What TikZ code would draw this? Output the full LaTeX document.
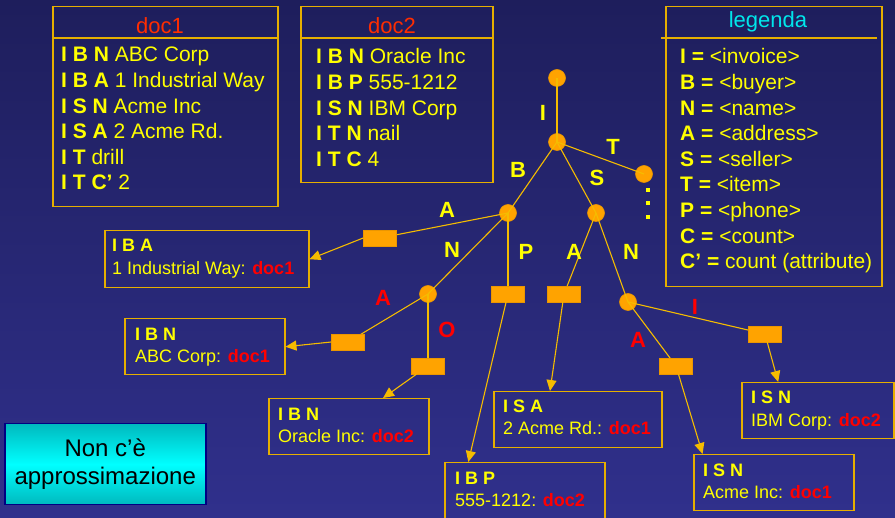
\documentclass[tikz,border=0pt]{standalone}
\usepackage{fontspec}
\setmainfont{Liberation Sans}
\usetikzlibrary{arrows.meta,calc}
\definecolor{bgtop}{RGB}{30,30,92}
\definecolor{bgbot}{RGB}{48,48,140}
\definecolor{ylw}{RGB}{255,255,0}
\definecolor{gold}{RGB}{230,175,0}
\definecolor{edgec}{RGB}{245,188,0}
\definecolor{orng}{RGB}{255,163,0}
\definecolor{orngb}{RGB}{235,150,0}
\definecolor{rd}{RGB}{255,0,0}
\definecolor{ttlred}{RGB}{255,45,0}
\definecolor{cyn}{RGB}{0,230,235}
\definecolor{tealc}{RGB}{0,185,190}
\definecolor{cyanmid}{RGB}{0,255,255}
\definecolor{navyc}{RGB}{0,0,130}
\pgfdeclarelayer{bg}\pgfdeclarelayer{circ}\pgfdeclarelayer{edges}
\pgfsetlayers{bg,circ,edges,main}
\begin{document}
\begin{tikzpicture}[x=1pt,y=-1pt,
  box/.style={draw=gold, line width=1.5pt, inner sep=0pt, anchor=north west},
  txt/.style={anchor=base west, inner sep=0pt, text=ylw},
  big/.style={txt, font=\fontsize{21}{25}\selectfont},
  small/.style={txt, font=\fontsize{18}{22}\selectfont},
  ttl/.style={anchor=base, inner sep=0pt, font=\fontsize{22}{26}\selectfont},
  circ/.style={circle, fill=orng, draw=orngb, line width=0.6pt, minimum size=17pt, inner sep=0pt},
  lab/.style={rectangle, fill=orng, draw=orngb, line width=0.6pt, minimum width=33pt, minimum height=16pt, inner sep=0pt},
  edge/.style={draw=edgec, line width=1.1pt},
  arr/.style={edge, -{Triangle[length=11pt,width=10pt]}},
  lbl/.style={font=\bfseries\fontsize{22}{22}\selectfont, text=ylw, inner sep=0pt},
  rlbl/.style={lbl, text=rd},
  dotm/.style={rectangle, fill=ylw, minimum size=3.6pt, inner sep=0pt}]
\useasboundingbox (0,0) rectangle (895,518);
\begin{pgfonlayer}{bg}
\fill[top color=bgtop, bottom color=bgbot] (0,0) rectangle (895,518);
\end{pgfonlayer}

% doc boxes
\node[box, minimum width=225pt, minimum height=200pt] (doc1) at (52,6) {};
\draw[gold, line width=1.5pt] (52,38) -- (277,38);
\node[ttl, text=ttlred] (doc1t) at (160,34) {doc1};
\foreach \t [count=\i from 0] in {{\textbf{I B N} ABC Corp},{\textbf{I B A} 1 Industrial Way},{\textbf{I S N} Acme Inc},{\textbf{I S A} 2 Acme Rd.},{\textbf{I T} drill},{\textbf{I T C’} 2}}
  \node[big] (d1l\i) at (61,62+25.6*\i) {\t};

\node[box, minimum width=192pt, minimum height=176pt] (doc2) at (300,6) {};
\draw[gold, line width=1.5pt] (300,38) -- (492,38);
\node[ttl, text=ttlred] (doc2t) at (392,34) {doc2};
\foreach \t [count=\i from 0] in {{\textbf{I B N} Oracle Inc},{\textbf{I B P} 555-1212},{\textbf{I S N} IBM Corp},{\textbf{I T N} nail},{\textbf{I T C} 4}}
  \node[big] (d2l\i) at (316,64+25.6*\i) {\t};

\node[box, minimum width=216pt, minimum height=280pt] (leg) at (665,6) {};
\draw[gold, line width=1.5pt] (661,38) -- (877,38);
\node[ttl, text=cyn] (legt) at (768,28) {legenda};
\foreach \t [count=\i from 0] in {{\textbf{I =} <invoice>},{\textbf{B =} <buyer>},{\textbf{N =} <name>},{\textbf{A =} <address>},{\textbf{S =} <seller>},{\textbf{T =} <item>},{\textbf{P =} <phone>},{\textbf{C =} <count>},{\textbf{C’ =} count (attribute)}}
  \node[big] (lgl\i) at (680,64+25.6*\i) {\t};

% result boxes
\node[box, minimum width=204pt, minimum height=57pt] (iba) at (104,230) {};
\node[small] (ibat) at (112,252) {\textbf{I B A}};
\node[small] (ibav) at (112,275) {1 Industrial Way: \textcolor{rd}{\textbf{doc1}}};

\node[box, minimum width=160pt, minimum height=56pt] (ibn) at (124,318) {};
\node[small] (ibnt) at (135,341) {\textbf{I B N}};
\node[small] (ibnv) at (135,363) {ABC Corp: \textcolor{rd}{\textbf{doc1}}};

\node[box, minimum width=160pt, minimum height=56pt] (orc) at (268,398) {};
\node[small] (orct) at (278,421) {\textbf{I B N}};
\node[small] (orcv) at (278,443) {Oracle Inc: \textcolor{rd}{\textbf{doc2}}};

\node[box, minimum width=168pt, minimum height=56pt] (isa) at (493,391) {};
\node[small] (isat) at (503,413) {\textbf{I S A}};
\node[small] (isav) at (503,435) {2 Acme Rd.: \textcolor{rd}{\textbf{doc1}}};

\node[box, minimum width=160pt, minimum height=56pt] (ibp) at (444,462) {};
\node[small] (ibpt) at (455,485) {\textbf{I B P}};
\node[small] (ibpv) at (455,507) {555-1212: \textcolor{rd}{\textbf{doc2}}};

\node[box, minimum width=160pt, minimum height=56pt] (acme) at (693,454) {};
\node[small] (acmet) at (703,477) {\textbf{I S N}};
\node[small] (acmev) at (703,499) {Acme Inc: \textcolor{rd}{\textbf{doc1}}};

\node[box, minimum width=152pt, minimum height=56pt] (ibm) at (741,382) {};
\node[small] (ibmt) at (751,404) {\textbf{I S N}};
\node[small] (ibmv) at (751,427) {IBM Corp: \textcolor{rd}{\textbf{doc2}}};

% note box
\node[draw=navyc, line width=1.5pt, top color=tealc, bottom color=tealc, middle color=cyanmid,
  minimum width=201pt, minimum height=81pt, anchor=north west, align=center, inner sep=0pt,
  font=\fontsize{24}{28}\selectfont, text=black] (nonc) at (4,423) {Non c’è\\approssimazione};

% tree nodes
\begin{pgfonlayer}{circ}
\node[circ] (r) at (557,78) {};
\node[circ] (ni) at (557,142) {};
\node[circ] (nt) at (644,174) {};
\node[circ] (nb) at (508,213) {};
\node[circ] (ns) at (596,213) {};
\node[circ] (nbn) at (428,294) {};
\node[circ] (nsn) at (628,302) {};
\end{pgfonlayer}

\node[lab] (rba) at (380,238) {};
\node[lab] (rbna) at (348,342) {};
\node[lab] (rbno) at (428,366) {};
\node[lab] (rp) at (508,294) {};
\node[lab] (rsa) at (564,294) {};
\node[lab] (rsni) at (765,334) {};
\node[lab] (rsna) at (676,366) {};

\begin{pgfonlayer}{edges}
\draw[edge] (r.center) -- (ni.center);
\draw[edge] (ni.center) -- (nt.center);
\draw[edge] (ni.center) -- (nb.center);
\draw[edge] (ni.center) -- (ns.center);
\draw[edge] (nb.center) -- (rba.center);
\draw[edge] (nb.center) -- (nbn.center);
\draw[edge] (nb.center) -- (rp.center);
\draw[edge] (nbn.center) -- (rbna.center);
\draw[edge] (nbn.center) -- (rbno.center);
\draw[edge] (ns.center) -- (rsa.center);
\draw[edge] (ns.center) -- (nsn.center);
\draw[edge] (nsn.center) -- (rsni.center);
\draw[edge] (nsn.center) -- (rsna.center);
\end{pgfonlayer}
\draw[arr] (rba.west) -- (iba.east);
\draw[arr] (rbna.west) -- (ibn.east);
\draw[arr] (rbno) -- (orc.40);
\draw[arr] (rp) -- (ibp.153);
\draw[arr] (rsa) -- (isa.134);
\draw[arr] (rsni) -- (ibm.144);
\draw[arr] (rsna) -- (acme.158);

% labels
\node[lbl] (li) at (543,113) {I};
\node[lbl] (lt) at (613,147) {T};
\node[lbl] (lb) at (518,170) {B};
\node[lbl] (ls) at (597,178) {S};
\node[lbl] (la) at (447,210) {A};
\node[lbl] (ln) at (452,250) {N};
\node[lbl] (lp) at (526,252) {P};
\node[lbl] (la2) at (574,252) {A};
\node[lbl] (ln2) at (631,252) {N};
\node[rlbl] (ra) at (383,298) {A};
\node[rlbl] (ro) at (447,330) {O};
\node[rlbl] (ri) at (695,307) {I};
\node[rlbl] (ra2) at (638,340) {A};
% vertical ellipsis under T
\node[dotm] (dt1) at (648,190) {};
\node[dotm] (dt2) at (648,203) {};
\node[dotm] (dt3) at (648,217) {};
\end{tikzpicture}
\end{document}
